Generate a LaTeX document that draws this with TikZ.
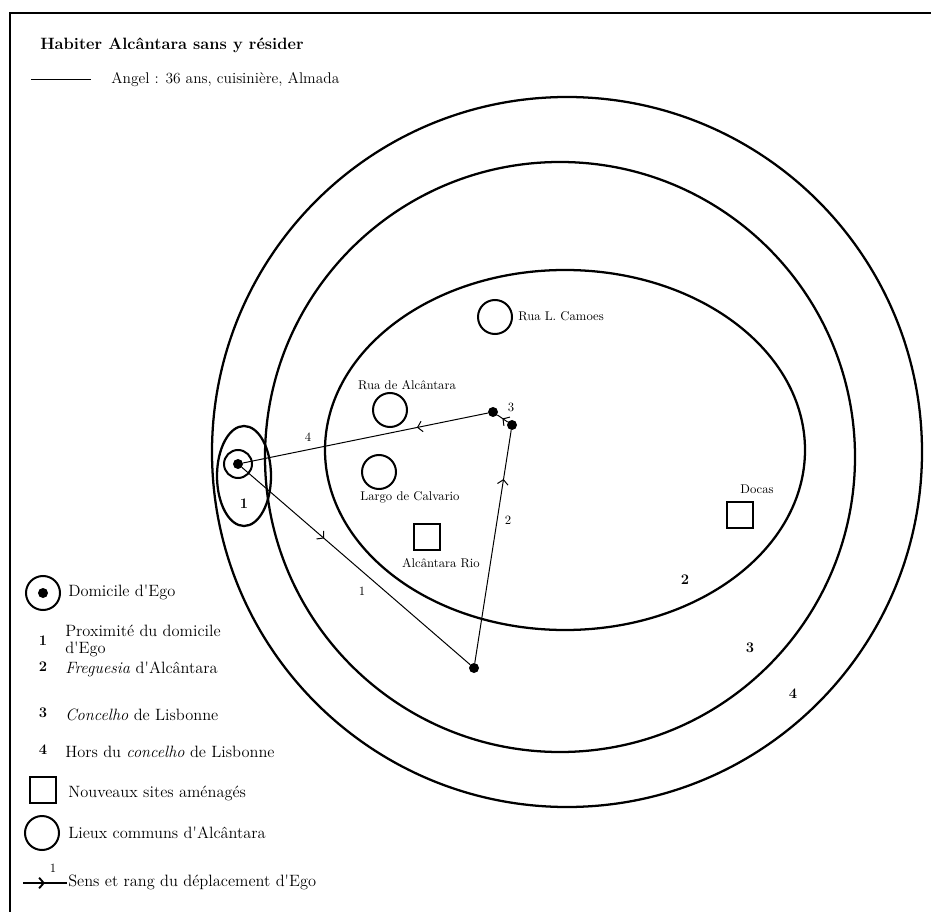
\documentclass[tikz,border=0pt]{standalone}
\usetikzlibrary{arrows.meta,decorations.markings}

\begin{document}
\begin{tikzpicture}[x=0.75pt,y=-0.75pt,
  zone/.style={line width=1.7pt},
  lieu/.style={circle,draw,line width=1.5pt,minimum size=25.5pt,inner sep=0pt},
  site/.style={rectangle,draw,line width=1.5pt,minimum size=20pt,inner sep=0pt},
  pt/.style={circle,fill,inner sep=0pt,minimum size=7.5pt},
  route/.style={line width=0.75pt},
  sens/.style={decoration={markings,
    mark=at position #1 with {\arrow{Straight Barb[length=3.5pt,width=8pt]}}},
    postaction={decorate}},
  lbl/.style={font=\fontsize{9.5}{11}\selectfont,inner sep=0pt},
  txt/.style={anchor=west,align=left,font=\fontsize{12.3}{13}\selectfont,inner sep=0pt},
  num/.style={font=\fontsize{11}{12}\selectfont\bfseries,inner sep=0pt}]

  \useasboundingbox (0,0) rectangle (931,912);
  \draw[line width=1.9pt] (940,13) -- (10,13) -- (10,920);

  \node[anchor=west,inner sep=0pt,font=\fontsize{12.3}{14}\selectfont\bfseries] (titre) at (40,45)
    {Habiter Alcântara sans y résider};
  \coordinate (a1) at (31,80);
  \coordinate (a2) at (91,80);
  \draw[route] (a1) -- (a2);
  \node[txt,font=\fontsize{11.6}{13}\selectfont] (angel) at (111,80) {Angel~: 36 ans, cuisinière, Almada};

  \draw[zone] (567,452) circle[radius=355];
  \draw[zone] (560,457) circle[radius=295];
  \draw[zone] (565,450) ellipse[x radius=240,y radius=180];
  \draw[zone] (244,476) ellipse[x radius=27,y radius=50];

  \node[num] (z1) at (244,504) {1};
  \node[num] (z2) at (685,580) {2};
  \node[num] (z3) at (750,648) {3};
  \node[num] (z4) at (793,694) {4};

  \node[lieu] (camoes) at (495,317) {};
  \node[lbl,anchor=west] (tcamoes) at (518,316) {Rua L. Camoes};
  \node[lieu] (ruaalc) at (390,410) {};
  \node[lbl] (truaalc) at (407,385) {Rua de Alcântara};
  \node[lieu] (calvario) at (379,472) {};
  \node[lbl] (tcalvario) at (410,497) {Largo de Calvario};
  \node[site] (rio) at (427,537) {};
  \node[lbl] (trio) at (441,563) {Alcântara Rio};
  \node[site] (docas) at (740,515) {};
  \node[lbl] (tdocas) at (757,489) {Docas};

  \node[circle,draw,line width=1.5pt,minimum size=21pt,inner sep=0pt] (dom) at (238,464) {};
  \node[pt] (ego) at (238,464) {};
  \node[pt] (p1) at (474,668) {};
  \node[pt] (p2) at (512,425) {};
  \node[pt] (p3) at (493,412) {};

  \draw[route,sens=0.36] (ego) -- (p1);
  \draw[route,sens=0.79] (p1) -- (p2);
  \draw[route,sens=0.5] (p2) -- (p3);
  \draw[route,sens=0.29] (p3) -- (ego);
  \node[lbl] (r1) at (362,591) {1};
  \node[lbl] (r2) at (508,520) {2};
  \node[lbl] (r3) at (511,407) {3};
  \node[lbl] (r4) at (308,437) {4};

  \node[circle,draw,line width=1.5pt,minimum size=25.5pt,inner sep=0pt] (legdom) at (43,593) {};
  \node[pt] (legego) at (43,593) {};
  \node[txt] (tdom) at (68,592) {Domicile d\textquotesingle Ego};
  \node[num] (l1) at (43,641) {1};
  \node[txt] (t1) at (65,641) {Proximité du domicile\\d\textquotesingle Ego};
  \node[num] (l2) at (43,667) {2};
  \node[txt] (t2) at (65,669) {\textit{Freguesia} d\textquotesingle Alcântara};
  \node[num] (l3) at (43,713) {3};
  \node[txt] (t3) at (65,715) {\textit{Concelho} de Lisbonne};
  \node[num] (l4) at (43,750) {4};
  \node[txt] (t4) at (65,752) {Hors du \textit{concelho} de Lisbonne};
  \node[site] (legsite) at (43,790) {};
  \node[txt] (tsite) at (68,793) {Nouveaux sites aménagés};
  \node[lieu] (leglieu) at (42,833) {};
  \node[txt] (tlieu) at (68,833) {Lieux communs d\textquotesingle Alcântara};
  \coordinate (s1) at (23,883);
  \coordinate (s2) at (67,883);
  \draw[line width=1.4pt,sens=0.5] (s1) -- (s2);
  \node[lbl] (ls) at (53,868) {1};
  \node[txt] (tsens) at (68,882) {Sens et rang du déplacement d\textquotesingle Ego};
\end{tikzpicture}
\end{document}
